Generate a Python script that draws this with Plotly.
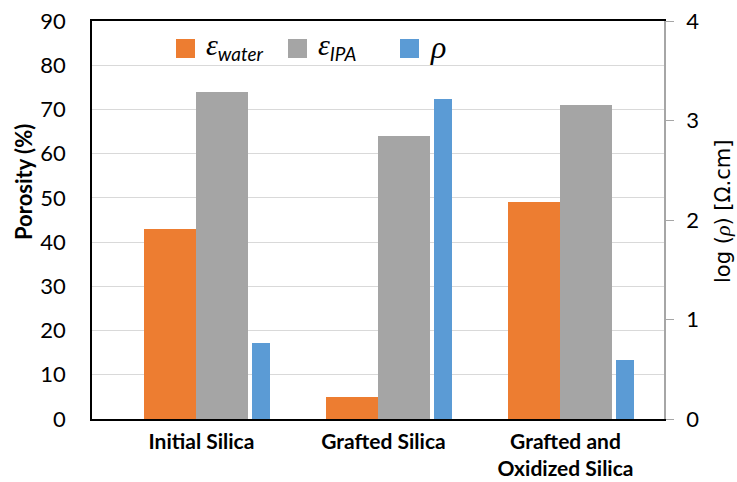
import plotly.graph_objects as go

# Samples and measured values
categories = ["Initial Silica", "Grafted Silica", "Grafted and<br>Oxidized Silica"]
porosity_water = [43, 5, 49]      # %
porosity_ipa = [74, 64, 71]       # %
log_resistivity = [0.76, 3.22, 0.59]  # log(rho) [Ohm.cm]

ORANGE = "#ED7D31"
GREY = "#A5A5A5"
BLUE = "#5B9BD5"

FONT = "Lato"
GREEK = "Liberation Serif"
W, H = 737, 482
ML, MR, MT, MB = 92, 73, 21, 63
PW, PH = W - ML - MR, H - MT - MB

xs = list(range(len(categories)))
bar_w = 2 / 7
rho_w = 0.097
rho_gap = 0.024

fig = go.Figure()
fig.add_trace(go.Bar(x=xs, y=porosity_water, width=bar_w, offset=-bar_w,
                     marker=dict(color=ORANGE, line=dict(width=0)), name="water"))
fig.add_trace(go.Bar(x=xs, y=porosity_ipa, width=bar_w, offset=0,
                     marker=dict(color=GREY, line=dict(width=0)), name="IPA"))
fig.add_trace(go.Bar(x=xs, y=log_resistivity, width=rho_w, offset=bar_w + rho_gap,
                     marker=dict(color=BLUE, line=dict(width=0)), name="rho", yaxis="y2"))


def px_to_paper(px, py):
    return (px - ML) / PW, (H - MB - py) / PH


def greek(ch, size=30):
    return f'<span style="font-family:{GREEK};font-size:{size}px"><i>{ch}</i></span>'


# Legend drawn as squares + labels along the top of the plot
legend_items = [
    (ORANGE, greek("ε") + "<sub><i>water</i></sub>", 176),
    (GREY, greek("ε") + "<sub><i>IPA</i></sub>", 288),
    (BLUE, greek("ρ", 32), 400),
]
shapes = []
annotations = []
for color, label, x0 in legend_items:
    ax0, ay0 = px_to_paper(x0, 58)
    ax1, ay1 = px_to_paper(x0 + 19, 39)
    shapes.append(dict(type="rect", xref="paper", yref="paper", x0=ax0, y0=ay0, x1=ax1, y1=ay1,
                       fillcolor=color, line=dict(width=0)))
    tx, ty = px_to_paper(x0 + 28, 47)
    annotations.append(dict(text=label, xref="paper", yref="paper", x=tx, y=ty,
                            xanchor="left", yanchor="middle", showarrow=False,
                            font=dict(family=FONT, size=27, color="#000")))

# Axis titles
lx, ly = px_to_paper(23, 182)
annotations.append(dict(text="<b>Porosity (%)</b>", xref="paper", yref="paper", x=lx, y=ly,
                        textangle=-90, showarrow=False, xanchor="center", yanchor="middle",
                        font=dict(family=FONT, size=22, color="#000")))
rx, ry = px_to_paper(722, 212)
annotations.append(dict(text="log (" + greek("ρ", 22) + ") [Ω.cm]", xref="paper", yref="paper",
                        x=rx, y=ry, textangle=-90, showarrow=False,
                        xanchor="center", yanchor="middle",
                        font=dict(family="DejaVu Sans", size=21, color="#000")))

fig.update_layout(
    width=W, height=H,
    margin=dict(l=ML, r=MR, t=MT, b=MB, pad=0),
    paper_bgcolor="white", plot_bgcolor="white",
    barmode="overlay", bargap=0,
    showlegend=False,
    font=dict(family=FONT, color="#000"),
    xaxis=dict(
        range=[-4 / 7, 18 / 7], automargin=False,
        tickvals=[x + 0.03 for x in xs],
        ticktext=[f"<b>{c}</b>" for c in categories],
        tickfont=dict(family=FONT, size=21, color="#000"),
        showgrid=False, zeroline=False,
        showline=True, linecolor="#000", linewidth=1.5, mirror=True,
        ticks="", ticklabelstandoff=3,
    ),
    yaxis=dict(
        range=[0, 90], dtick=10, automargin=False,
        tickfont=dict(family=FONT, size=22, color="#000"),
        showgrid=True, gridcolor="#D9D9D9", gridwidth=1,
        zeroline=False, showline=True, linecolor="#000", linewidth=1.5,
        ticks="", ticklabelstandoff=20,
    ),
    yaxis2=dict(
        range=[0, 4], dtick=1, overlaying="y", side="right", automargin=False,
        tickfont=dict(family=FONT, size=22, color="#000"),
        showgrid=False, zeroline=False,
        showline=True, linecolor="#A6A6A6", linewidth=1.5,
        ticks="outside", ticklen=8, tickcolor="#A6A6A6", tickwidth=1,
        ticklabelstandoff=8,
    ),
    shapes=shapes,
    annotations=annotations,
)

fig.write_html("out.html")
